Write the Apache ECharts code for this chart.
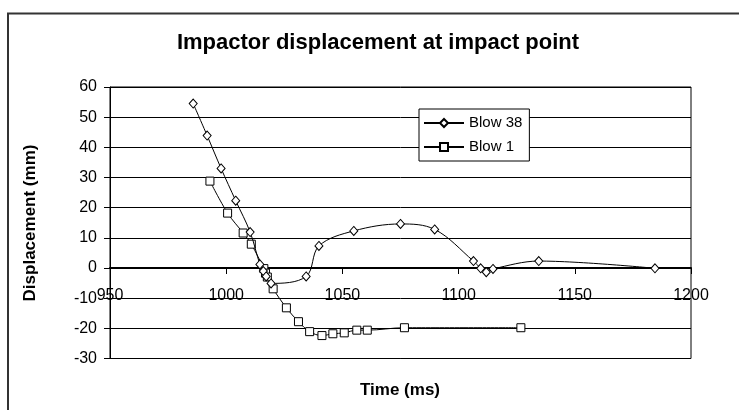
<!DOCTYPE html>
<html>
<head>
<meta charset="utf-8">
<script src="https://cdn.jsdelivr.net/npm/echarts@6/dist/echarts.min.js"></script>
<style>
html,body{margin:0;padding:0;background:#fff;}
#chart{width:739px;height:410px;}
</style>
</head>
<body>
<div id="chart"></div>
<script>
var titleText = 'Impactor displacement at impact point';
var xAxisTitle = 'Time (ms)';
var yAxisTitle = 'Displacement (mm)';
var seriesNames = ['Blow 38', 'Blow 1'];

var blow38Time = [985.8, 991.8, 997.8, 1004.1, 1010.3, 1014.5, 1016.0, 1017.2, 1019.3, 1034.4, 1039.9, 1054.9, 1075.0, 1089.7, 1106.4, 1109.5, 1111.9, 1114.8, 1134.5, 1184.5];
var blow38Disp = [54.5, 43.9, 33.0, 22.3, 11.9, 1.2, -1.0, -2.8, -5.1, -2.8, 7.3, 12.3, 14.6, 12.8, 2.3, -0.1, -1.4, -0.3, 2.3, -0.1];

var blow1Time = [993.0, 1000.6, 1007.3, 1010.8, 1016.2, 1016.9, 1017.7, 1020.2, 1025.9, 1031.1, 1035.9, 1041.2, 1045.9, 1050.8, 1056.2, 1060.7, 1076.7, 1126.8];
var blow1Disp = [28.8, 18.2, 11.6, 7.9, -0.2, -1.7, -3.0, -6.9, -13.2, -17.8, -21.1, -22.4, -21.8, -21.5, -20.6, -20.6, -19.8, -19.8];

var xMin = 950, xMax = 1200, xStep = 50;
var yMin = -30, yMax = 60, yStep = 10;

function pairs(xs, ys) {
  var out = [];
  for (var i = 0; i < xs.length; i++) out.push([xs[i], ys[i]]);
  return out;
}

var FONT = '"Liberation Sans", Arial, sans-serif';
var gridTop = 87, gridBottomPx = 358.5, H = 410;
var gridHeight = gridBottomPx - gridTop;
// move the x axis up to the value 0 of the y axis
var xAxisOffset = -gridHeight * (0 - yMin) / (yMax - yMin);

var chart = echarts.init(document.getElementById('chart'), null, {renderer: 'canvas'});

chart.setOption({
  animation: false,
  backgroundColor: '#fff',
  graphic: [
    {type: 'rect', shape: {x: 8, y: 13.5, width: 800, height: 500}, style: {fill: 'none', stroke: '#333', lineWidth: 2}, z: 0},
    {type: 'text', x: 378, y: 43, style: {text: titleText, font: 'bold 22px ' + FONT, fill: '#000', textAlign: 'center', textVerticalAlign: 'middle', verticalAlign: 'middle'}},
    {type: 'text', x: 400, y: 390, style: {text: xAxisTitle, font: 'bold 17px ' + FONT, fill: '#000', textAlign: 'center', textVerticalAlign: 'middle', verticalAlign: 'middle'}},
    {type: 'text', x: 30, y: 223, rotation: Math.PI / 2, style: {text: yAxisTitle, font: 'bold 17px ' + FONT, fill: '#000', textAlign: 'center', textVerticalAlign: 'middle', verticalAlign: 'middle'}}
  ],
  grid: {
    left: 110, right: 48, top: gridTop, bottom: H - gridBottomPx,
    show: true, borderColor: '#000', borderWidth: 1, backgroundColor: 'transparent',
    containLabel: false
  },
  legend: {
    orient: 'vertical',
    left: 419, top: 109,
    backgroundColor: '#fff',
    borderColor: '#000', borderWidth: 1,
    padding: [6, 7, 6, 4],
    itemGap: 8,
    itemWidth: 40, itemHeight: 10,
    textStyle: {fontFamily: FONT, fontSize: 15, color: '#000', lineHeight: 16},
    data: seriesNames
  },
  xAxis: {
    type: 'value', min: xMin, max: xMax, interval: xStep,
    position: 'bottom', offset: xAxisOffset,
    axisLine: {onZero: false, lineStyle: {color: '#000', width: 2}},
    axisTick: {show: true, length: 6, lineStyle: {color: '#000', width: 1}},
    axisLabel: {fontFamily: FONT, fontSize: 16, color: '#000', margin: 20, showMinLabel: true, showMaxLabel: true,
      formatter: function (v) { return String(v); }},
    splitLine: {show: false}
  },
  yAxis: {
    type: 'value', min: yMin, max: yMax, interval: yStep,
    axisLine: {show: true, onZero: false, lineStyle: {color: '#000', width: 1}},
    axisTick: {show: true, length: 6, lineStyle: {color: '#000', width: 1}},
    axisLabel: {fontFamily: FONT, fontSize: 16, color: '#000', margin: 13,
      formatter: function (v) { return String(v); }},
    splitLine: {show: true, lineStyle: {color: '#000', width: 1}}
  },
  series: [
    {
      name: seriesNames[0], type: 'line', smooth: 0.35,
      data: pairs(blow38Time, blow38Disp),
      symbol: 'diamond', symbolSize: [8, 9],
      lineStyle: {color: '#000', width: 1},
      itemStyle: {color: '#fff', borderColor: '#000', borderWidth: 1},
      z: 3
    },
    {
      name: seriesNames[1], type: 'line', smooth: 0.35,
      data: pairs(blow1Time, blow1Disp),
      symbol: 'rect', symbolSize: 8,
      lineStyle: {color: '#000', width: 1},
      itemStyle: {color: '#fff', borderColor: '#000', borderWidth: 1},
      z: 2
    }
  ]
});
</script>
</body>
</html>
